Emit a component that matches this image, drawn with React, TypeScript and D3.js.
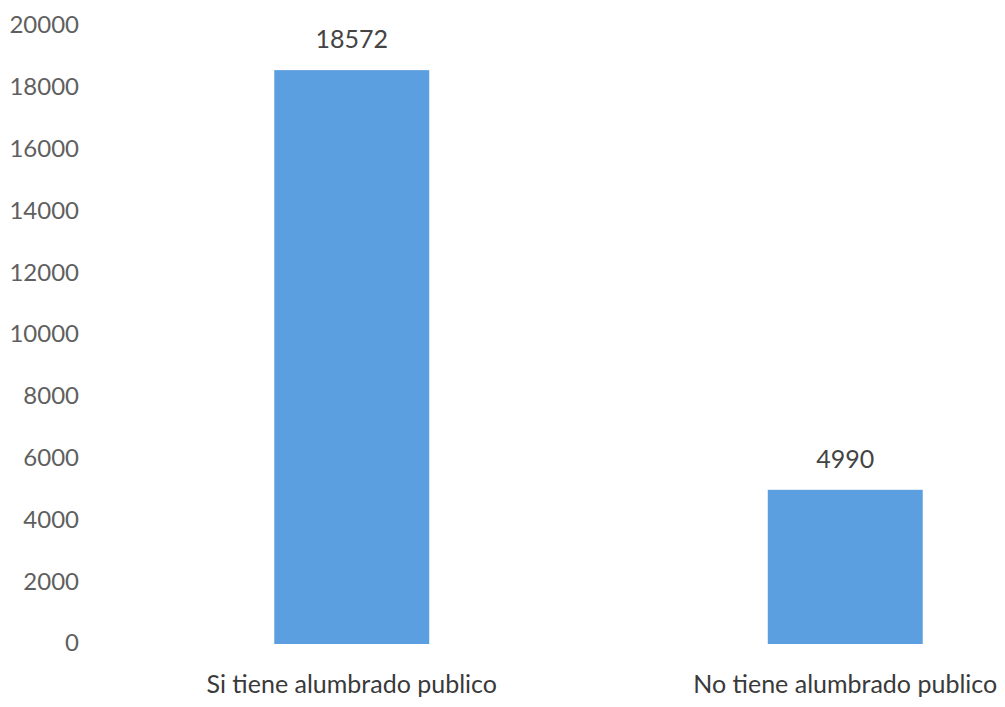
import React from "react";
import * as d3 from "d3";

const categories = ["Si tiene alumbrado publico", "No tiene alumbrado publico"];
const values = [18572, 4990];
const yTicks = [0, 2000, 4000, 6000, 8000, 10000, 12000, 14000, 16000, 18000, 20000];

const W = 1005;
const H = 707;

export default function App() {
  const x = d3.scaleBand<string>().domain(categories).range([105, 1092]).paddingInner(0.686).paddingOuter(0.343);
  const y = d3.scaleLinear().domain([0, 20000]).range([644, 26]);
  const font = "Lato, 'Open Sans', sans-serif";
  return (
    <svg width={W} height={H} style={{ position: "absolute", left: 0, top: 0, background: "#fff" }}>
      <rect x={0} y={0} width={W} height={H} fill="#fff" />
      {yTicks.map((t) => (
        <text key={t} x={79} y={y(t) - 1} dy="0.35em" textAnchor="end" fontFamily={font} fontSize={24} fill="#5f5f5f">
          {t}
        </text>
      ))}
      {categories.map((c, i) => (
        <g key={c}>
          <rect x={x(c)} y={y(values[i])} width={x.bandwidth()} height={y(0) - y(values[i])} fill="#5c9fe0" />
          <text x={(x(c) as number) + x.bandwidth() / 2} y={y(values[i]) - 22} textAnchor="middle" fontFamily={font} fontSize={25} fill="#444">
            {values[i]}
          </text>
          <text x={(x(c) as number) + x.bandwidth() / 2} y={693} textAnchor="middle" fontFamily={font} fontSize={25} fill="#3a3a3a">
            {c}
          </text>
        </g>
      ))}
    </svg>
  );
}
